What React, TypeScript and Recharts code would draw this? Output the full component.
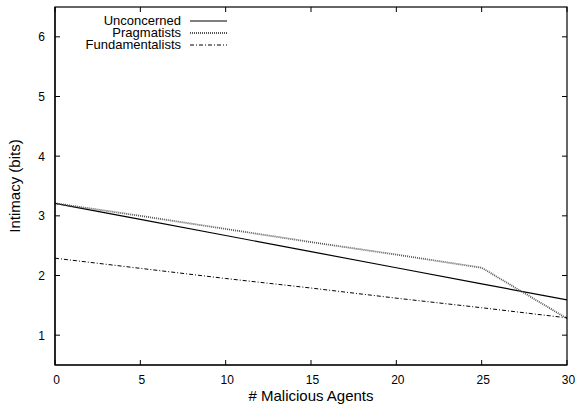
import { LineChart, Line, XAxis, YAxis } from "recharts"

const agents = [0, 5, 10, 15, 20, 25, 30]
const unconcerned = [3.21, 2.94, 2.67, 2.4, 2.13, 1.86, 1.59]
const pragmatists = [3.21, 3.0, 2.78, 2.56, 2.35, 2.13, 1.28]
const fundamentalists = [2.29, 2.12, 1.95, 1.79, 1.62, 1.46, 1.29]
const xTicks = [0, 5, 10, 15, 20, 25, 30]
const yTicks = [1, 2, 3, 4, 5, 6]

const data = agents.map((a, i) => ({
  agents: a,
  Unconcerned: unconcerned[i],
  Pragmatists: pragmatists[i],
  Fundamentalists: fundamentalists[i],
}))

const FONT = "'Liberation Sans', Arial, Helvetica, sans-serif"

// layout: plot box edges follow from margins and axis sizes
const W = 577
const H = 409
const M = { top: 7, right: 10, bottom: 0, left: 0 }
const X_AXIS_H = 44
const Y_AXIS_W = 55
const PLOT_TOP = M.top
const PLOT_RIGHT = W - M.right
const PLOT_BOTTOM = H - M.bottom - X_AXIS_H

const series = [
  { key: "Unconcerned", color: "#000", width: 1.2, dash: undefined },
  { key: "Pragmatists", color: "#555", width: 1.8, dash: "1 1" },
  { key: "Fundamentalists", color: "#000", width: 1, dash: "4 2 1 2" },
]

// bottom ticks also draw the mirrored tick on the top edge
const BottomTick = (props: any) => {
  const { x, y, payload } = props
  return (
    <g>
      <line x1={x} x2={x} y1={y} y2={y - 5} stroke="#000" />
      <line x1={x} x2={x} y1={PLOT_TOP} y2={PLOT_TOP + 5} stroke="#000" />
      <text x={x + 1.5} y={y + 19} textAnchor="middle" fontSize={12} fill="#000" fontFamily={FONT}>
        {payload.value}
      </text>
    </g>
  )
}

// left ticks also draw the mirrored tick on the right edge
const LeftTick = (props: any) => {
  const { x, y, payload } = props
  return (
    <g>
      <line x1={x} x2={x + 5} y1={y} y2={y} stroke="#000" />
      <line x1={PLOT_RIGHT} x2={PLOT_RIGHT - 5} y1={y} y2={y} stroke="#000" />
      <text x={x - 10} y={y + 4.5} textAnchor="end" fontSize={12} fill="#000" fontFamily={FONT}>
        {payload.value}
      </text>
    </g>
  )
}

const ChartLegend = () => (
  <div
    style={{
      position: "absolute",
      left: 57,
      top: 15,
      width: 170,
      fontFamily: FONT,
      fontSize: 13,
      lineHeight: "12px",
    }}
  >
    {series.map((s) => (
      <div key={s.key} style={{ display: "flex", alignItems: "center", justifyContent: "flex-end", height: 12 }}>
        <span>{s.key}</span>
        <svg width={46} height={10}>
          <line x1={9} x2={46} y1={5} y2={5} stroke={s.color} strokeWidth={s.width} strokeDasharray={s.dash} />
        </svg>
      </div>
    ))}
  </div>
)

export default function App() {
  return (
    <div style={{ position: "absolute", left: 0, top: 0, width: W, height: H, background: "#fff" }}>
      <LineChart width={W} height={H} data={data} margin={M}>
        <XAxis
          dataKey="agents"
          type="number"
          domain={[0, 30]}
          ticks={xTicks}
          height={X_AXIS_H}
          tickSize={0}
          tickMargin={0}
          tickLine={false}
          tick={<BottomTick />}
          axisLine={{ stroke: "#000", strokeWidth: 1.2 }}
          label={{ value: "# Malicious Agents", position: "insideBottom", offset: 8, fontSize: 15, fill: "#000", fontFamily: FONT }}
        />
        <YAxis
          type="number"
          domain={[0.5, 6.5]}
          ticks={yTicks}
          width={Y_AXIS_W}
          tickSize={0}
          tickMargin={0}
          tickLine={false}
          tick={<LeftTick />}
          axisLine={{ stroke: "#000", strokeWidth: 1.2 }}
          label={{ value: "Intimacy (bits)", angle: -90, position: "insideLeft", offset: 15, fontSize: 15, fill: "#000", fontFamily: FONT, style: { textAnchor: "middle" } }}
        />
        {series.map((s) => (
          <Line
            key={s.key}
            dataKey={s.key}
            stroke={s.color}
            strokeWidth={s.width}
            strokeDasharray={s.dash}
            dot={false}
            type="linear"
            isAnimationActive={false}
          />
        ))}
      </LineChart>
      {/* plot frame drawn over the chart */}
      <svg
        width={W}
        height={H}
        style={{ position: "absolute", left: 0, top: 0, pointerEvents: "none" }}
      >
        <rect
          x={Y_AXIS_W}
          y={PLOT_TOP}
          width={PLOT_RIGHT - Y_AXIS_W}
          height={PLOT_BOTTOM - PLOT_TOP}
          fill="none"
          stroke="#000"
          strokeWidth={1.2}
        />
      </svg>
      <ChartLegend />
    </div>
  )
}
